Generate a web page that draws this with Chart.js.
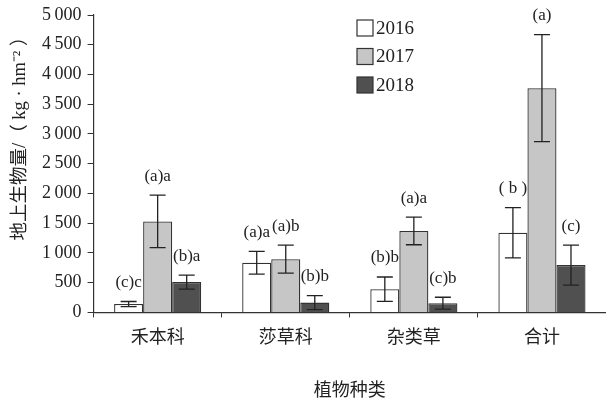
<!DOCTYPE html>
<html lang="zh">
<head>
  <meta charset="UTF-8">
  <title>地上生物量</title>
  <style>
    body {
      margin: 0;
      background: white;
    }
    canvas {
      display: block;
    }
  </style>
  <script src="https://cdn.jsdelivr.net/npm/chart.js"></script>
</head>
<body>
  <canvas id="biomassChart" width="606" height="398"></canvas>

  <script>
    const categories = ['禾本科', '莎草科', '杂类草', '合计'];
    const years = ['2016', '2017', '2018'];

    // mean biomass (kg/hm2) and error
    const biomass2016 = [140, 835, 390, 1340];
    const biomass2017 = [1530, 895, 1370, 3770];
    const biomass2018 = [510, 165, 155, 795];
    const err2016 = [43, 190, 205, 422];
    const err2017 = [442, 236, 233, 900];
    const err2018 = [118, 118, 100, 335];
    const marks2016 = ['(c)c', '(a)a', '(b)b', '( b )'];
    const marks2017 = ['(a)a', '(a)b', '(a)a', '(a)'];
    const marks2018 = ['(b)a', '(b)b', '(c)b', '(c)'];

    const yTicks = [0, 500, 1000, 1500, 2000, 2500, 3000, 3500, 4000, 4500, 5000];

    const serif = '"Liberation Serif", "Noto Sans CJK SC", serif';
    const cjk = '"Noto Sans CJK SC", sans-serif';
    const ink = '#222';

    // error bars + significance letters above each bar
    const errorBars = {
      id: 'errorBars',
      afterDatasetsDraw(chart) {
        const ctx = chart.ctx;
        const y = chart.scales.y;
        chart.data.datasets.forEach((ds, i) => {
          const meta = chart.getDatasetMeta(i);
          meta.data.forEach((bar, j) => {
            const v = ds.data[j], e = ds.errors[j];
            const top = y.getPixelForValue(v + e);
            const bot = y.getPixelForValue(v - e);
            ctx.save();
            ctx.strokeStyle = ink;
            ctx.lineWidth = 1.3;
            ctx.beginPath();
            ctx.moveTo(bar.x, top);
            ctx.lineTo(bar.x, bot);
            ctx.moveTo(bar.x - 8, top);
            ctx.lineTo(bar.x + 8, top);
            ctx.moveTo(bar.x - 8, bot);
            ctx.lineTo(bar.x + 8, bot);
            ctx.stroke();
            ctx.fillStyle = ink;
            ctx.font = '17px ' + serif;
            ctx.textAlign = 'center';
            ctx.textBaseline = 'middle';
            ctx.fillText(ds.marks[j], bar.x, top - 19);
            ctx.restore();
          });
        });
      }
    };

    // legend box in the upper middle + rotated y title
    const extras = {
      id: 'extras',
      afterDraw(chart) {
        const ctx = chart.ctx;
        ctx.save();
        chart.data.datasets.forEach((ds, i) => {
          const cy = 28 + i * 28.5;
          ctx.fillStyle = ds.backgroundColor;
          ctx.fillRect(357, cy - 8, 16, 16);
          ctx.strokeStyle = ds.borderColor;
          ctx.lineWidth = 1.2;
          ctx.strokeRect(357, cy - 8, 16, 16);
          ctx.fillStyle = ink;
          ctx.font = '19px ' + serif;
          ctx.textAlign = 'left';
          ctx.textBaseline = 'middle';
          ctx.fillText(ds.label, 376, cy + 1);
        });

        ctx.translate(20, 134);
        ctx.rotate(-Math.PI / 2);
        ctx.fillStyle = ink;
        ctx.font = '18.5px ' + serif;
        ctx.textAlign = 'center';
        ctx.textBaseline = 'middle';
        ctx.fillText('地上生物量/（ kg · hm⁻² ）', 0, 0);
        ctx.restore();
      }
    };

    const ctx = document.getElementById('biomassChart').getContext('2d');
    new Chart(ctx, {
      type: 'bar',
      data: {
        labels: categories,
        datasets: [
          {
            label: years[0], data: biomass2016, errors: err2016, marks: marks2016,
            backgroundColor: '#ffffff', borderColor: '#333', borderWidth: 1.3
          },
          {
            label: years[1], data: biomass2017, errors: err2017, marks: marks2017,
            backgroundColor: '#c6c6c6', borderColor: '#333', borderWidth: 1.3
          },
          {
            label: years[2], data: biomass2018, errors: err2018, marks: marks2018,
            backgroundColor: '#505050', borderColor: '#333', borderWidth: 1.3
          }
        ]
      },
      options: {
        responsive: false,
        animation: false,
        layout: {
          padding: { left: 36, top: 4, right: 0, bottom: 0 }
        },
        datasets: {
          bar: { categoryPercentage: 0.68, barPercentage: 1 }
        },
        plugins: {
          legend: { display: false },
          tooltip: { enabled: false }
        },
        scales: {
          x: {
            grid: { offset: true, drawOnChartArea: false, tickLength: 5, color: '#333' },
            border: { color: '#333', width: 1.2 },
            ticks: { color: ink, padding: 8, font: { family: cjk, size: 18 } },
            title: {
              display: true,
              text: '植物种类',
              color: ink,
              font: { family: cjk, size: 18, lineHeight: 1 },
              padding: { top: 25, bottom: 0 }
            }
          },
          y: {
            min: 0,
            max: 5000,
            afterBuildTicks: (axis) => {
              axis.ticks = yTicks.map(v => ({ value: v }));
            },
            grid: { drawOnChartArea: false, tickLength: 6, color: '#333' },
            border: { color: '#333', width: 1.2 },
            ticks: {
              color: ink,
              padding: 6,
              font: { family: serif, size: 18, lineHeight: 1 },
              callback: (v) => v >= 1000
                ? Math.floor(v / 1000) + '\u2009' + String(v % 1000).padStart(3, '0')
                : String(v)
            }
          }
        }
      },
      plugins: [errorBars, extras]
    });
  </script>
</body>
</html>
